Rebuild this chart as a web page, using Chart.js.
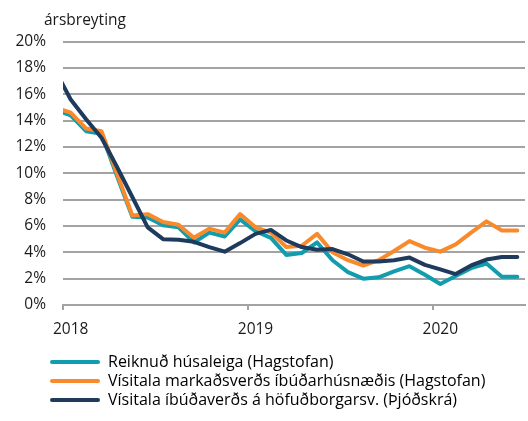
<!DOCTYPE html>
<html>
<head>
<meta charset="utf-8">
<script src="https://cdn.jsdelivr.net/npm/chart.js@4.4.1/dist/chart.umd.min.js"></script>
<style>
  html, body { margin: 0; padding: 0; background: #fff; }
  #wrap { width: 528px; height: 421px; }
</style>
</head>
<body>
<div id="wrap"><canvas id="rentChart" width="528" height="421"></canvas></div>
<script>
// monthly data, first month (Dec 2017) sits just left of the plot and is clipped
const months = [
  "2017-12",
  "2018-01", "2018-02", "2018-03", "2018-04", "2018-05", "2018-06",
  "2018-07", "2018-08", "2018-09", "2018-10", "2018-11", "2018-12",
  "2019-01", "2019-02", "2019-03", "2019-04", "2019-05", "2019-06",
  "2019-07", "2019-08", "2019-09", "2019-10", "2019-11", "2019-12",
  "2020-01", "2020-02", "2020-03", "2020-04", "2020-05", "2020-06",
];

const reiknudHusaleiga = [
  14.8,
  14.4, 13.2, 13.0, 9.8, 6.7, 6.65, 6.05, 5.9, 4.75, 5.5, 5.2, 6.5,
  5.6, 5.1, 3.8, 3.95, 4.75, 3.4, 2.5, 2.0, 2.1, 2.55, 2.95, 2.3,
  1.6, 2.2, 2.8, 3.15, 2.15, 2.15,
];

const markadsverd = [
  15.0,
  14.6, 13.4, 13.2, 10.0, 6.8, 6.9, 6.3, 6.1, 5.1, 5.8, 5.5, 6.9,
  5.9, 5.5, 4.4, 4.5, 5.4, 4.0, 3.4, 3.0, 3.4, 4.1, 4.85, 4.35,
  4.05, 4.6, 5.5, 6.35, 5.65, 5.65,
];

const thjodskra = [
  17.8,
  15.6, 14.1, 12.7, 10.5, 8.2, 5.9, 5.0, 4.95, 4.8, 4.4, 4.05, 4.7,
  5.4, 5.7, 4.9, 4.4, 4.2, 4.25, 3.85, 3.3, 3.3, 3.4, 3.6, 3.05,
  2.7, 2.35, 3.0, 3.45, 3.65, 3.65,
];

const seriesLabels = [
  "Reiknuð húsaleiga (Hagstofan)",
  "Vísitala markaðsverðs íbúðarhúsnæðis (Hagstofan)",
  "Vísitala íbúðaverðs á höfuðborgarsv. (Þjóðskrá)",
];
const seriesColors = ["#119dae", "#f98a2c", "#1e3a5c"];

const gridColor = "#a3a3a3";

Chart.defaults.font.family = "'Open Sans', Lato, sans-serif";
Chart.defaults.font.size = 15.5;
Chart.defaults.color = "#1a1a1a";

// move title and legend to where the original has them
const placeBlocks = {
  id: "placeBlocks",
  afterLayout(chart) {
    if (chart.legend) chart.legend.left = 47;
    if (chart.titleBlock) chart.titleBlock.left = 44;
  },
};

function makeLine(label, data, color, order) {
  return {
    label: label,
    data: data,
    borderColor: color,
    backgroundColor: color,
    borderWidth: 4,
    pointRadius: 0,
    tension: 0,
    borderCapStyle: "round",
    borderJoinStyle: "round",
    order: order,
  };
}

const ctx = document.getElementById("rentChart").getContext("2d");
new Chart(ctx, {
  type: "line",
  plugins: [placeBlocks],
  data: {
    labels: months,
    datasets: [
      makeLine(seriesLabels[0], reiknudHusaleiga, seriesColors[0], 3),
      makeLine(seriesLabels[1], markadsverd, seriesColors[1], 2),
      makeLine(seriesLabels[2], thjodskra, seriesColors[2], 1),
    ],
  },
  options: {
    responsive: false,
    animation: false,
    layout: { padding: { left: 0, right: 3, top: 0, bottom: 3 } },
    scales: {
      x: {
        type: "category",
        min: "2018-01",
        offset: true,
        afterFit: (scale) => { scale.height = 46; },
        grid: {
          offset: true,
          drawOnChartArea: false,
          tickLength: 5,
          lineWidth: 2,
          color: (c) => {
            if (!c.tick) return "transparent";
            return months[c.tick.value].endsWith("-01") ? gridColor : "transparent";
          },
        },
        border: { display: true, color: gridColor, width: 2 },
        ticks: {
          autoSkip: false,
          maxRotation: 0,
          padding: 10,
          callback: (v) => (months[v].endsWith("-01") ? months[v].slice(0, 4) : ""),
        },
      },
      y: {
        min: 0,
        max: 20,
        afterFit: (scale) => { scale.width = 63; },
        border: { display: false },
        grid: { color: gridColor, lineWidth: 2, drawTicks: false },
        ticks: {
          stepSize: 2,
          padding: 17,
          callback: (v) => v + "%",
        },
      },
    },
    plugins: {
      title: {
        display: true,
        text: "ársbreyting",
        align: "start",
        font: { size: 15.5, weight: "normal" },
        color: "#1a1a1a",
        padding: { top: 11, bottom: 12 },
      },
      legend: {
        position: "bottom",
        align: "start",
        labels: {
          boxWidth: 50,
          boxHeight: 4,
          padding: 3,
          font: { size: 16 },
          generateLabels: (chart) =>
            chart.data.datasets.map((ds, i) => ({
              text: ds.label,
              fillStyle: ds.borderColor,
              strokeStyle: ds.borderColor,
              lineWidth: 0,
              borderRadius: 2,
              hidden: false,
              datasetIndex: i,
            })),
        },
      },
      tooltip: { enabled: false },
    },
  },
});
</script>
</body>
</html>
